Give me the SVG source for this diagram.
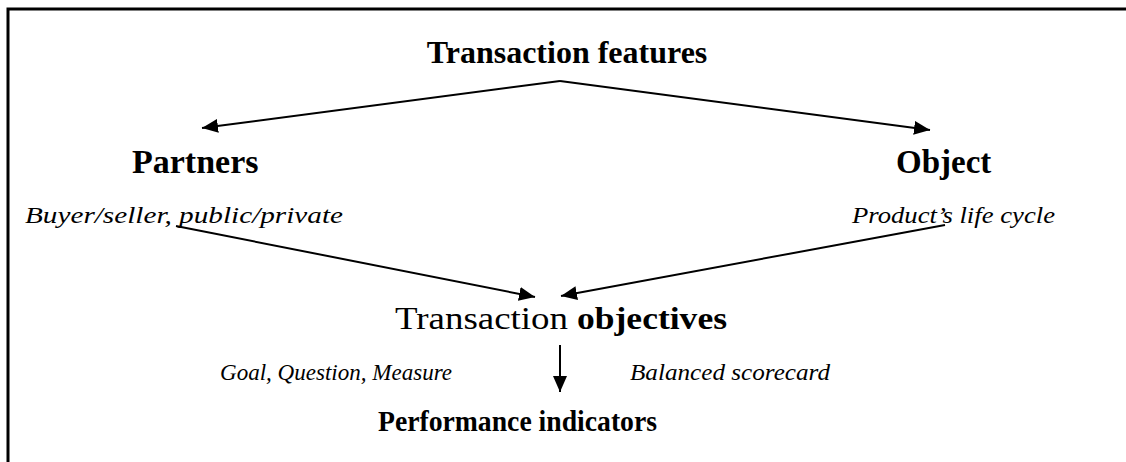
<svg xmlns="http://www.w3.org/2000/svg" width="1126" height="462" viewBox="0 0 1126 462">
<defs>
<marker id="ah" viewBox="0 0 16 14" refX="16" refY="7" markerWidth="16" markerHeight="14" markerUnits="userSpaceOnUse" orient="auto">
<path d="M0,0 L16,7 L0,14 z" fill="#000"/>
</marker>
<style>
.h{font-family:"Liberation Serif","Times New Roman",serif;font-weight:bold;fill:#000}
.r{font-family:"Liberation Serif","Times New Roman",serif;fill:#000}
.i{font-family:"Liberation Serif","Times New Roman",serif;font-style:italic;font-size:24px;fill:#000}
.c{stroke:#000;stroke-width:2;fill:none}
</style>
</defs>
<rect width="1126" height="462" fill="#fff"/>
<path d="M8,462 V9 H1126" stroke="#000" stroke-width="3" fill="none"/>
<g id="features"><text class="h" x="567" y="63" font-size="32" text-anchor="middle">Transaction features</text></g>
<g id="partners"><text class="h" x="132" y="173" font-size="34">Partners</text>
<text class="i" x="25" y="223" font-size="25" textLength="318" lengthAdjust="spacingAndGlyphs">Buyer/seller, public/private</text></g>
<g id="object"><text class="h" x="896" y="173" font-size="33">Object</text>
<text class="i" x="852" y="223" textLength="203" lengthAdjust="spacingAndGlyphs">Product’s life cycle</text></g>
<g id="objectives"><text class="r" x="395" y="329" font-size="31" textLength="173" lengthAdjust="spacingAndGlyphs">Transaction</text>
<text class="h" x="577" y="329" font-size="31" textLength="150" lengthAdjust="spacingAndGlyphs">objectives</text></g>
<g id="indicators"><text class="h" x="378" y="431" font-size="30" textLength="279" lengthAdjust="spacingAndGlyphs">Performance indicators</text></g>
<g id="labels"><text class="i" x="220" y="380" font-size="23" textLength="232" lengthAdjust="spacingAndGlyphs">Goal, Question, Measure</text>
<text class="i" x="630" y="380" textLength="200" lengthAdjust="spacingAndGlyphs">Balanced scorecard</text></g>
<g id="connectors">
<line class="c" x1="560" y1="81" x2="202" y2="128" marker-end="url(#ah)"/>
<line class="c" x1="560" y1="81" x2="930" y2="130" marker-end="url(#ah)"/>
<line class="c" x1="176" y1="226" x2="535" y2="297" marker-end="url(#ah)"/>
<line class="c" x1="945" y1="225" x2="561" y2="296" marker-end="url(#ah)"/>
<line class="c" x1="560" y1="345" x2="560" y2="392" marker-end="url(#ah)"/>
</g>
</svg>
